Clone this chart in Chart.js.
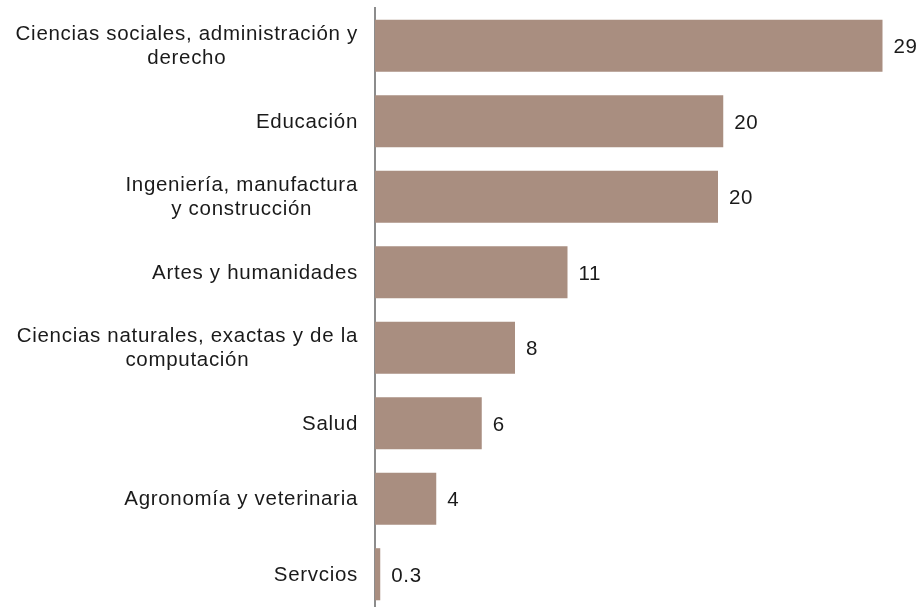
<!DOCTYPE html>
<html>
<head>
<meta charset="utf-8">
<style>
    html, body { margin: 0; padding: 0; background: #fff; overflow: hidden; }
    #wrap { position: relative; width: 922px; height: 612px; }
</style>
<script src="https://cdn.jsdelivr.net/npm/chart.js@4.4.1/dist/chart.umd.min.js"></script>
</head>
<body>
<div id="wrap"><canvas id="chart"></canvas></div>
<script>
    // Categories, one array of lines per bar (line breaks as in the picture)
    var categories = [
        ["Ciencias sociales, administración y", "derecho"],
        ["Educación"],
        ["Ingeniería, manufactura", "y construcción"],
        ["Artes y humanidades"],
        ["Ciencias naturales, exactas y de la", "computación"],
        ["Salud"],
        ["Agronomía y veterinaria"],
        ["Servcios"]
    ];

    var values = [29.0, 19.9, 19.6, 11.0, 8.0, 6.1, 3.5, 0.3];
    var valueLabels = ["29", "20", "20", "11", "8", "6", "4", "0.3"];

    var FONT = "20.5px 'Liberation Sans', Arial, sans-serif";

    // Draws the category labels (centred lines, block right-aligned to the axis)
    // and the value labels at the bar ends
    var labelPlugin = {
        id: "labels",
        afterDraw: function (chart) {
            var ctx = chart.ctx;
            var yScale = chart.scales.y;
            var meta = chart.getDatasetMeta(0);
            ctx.save();
            ctx.font = FONT;
            ctx.letterSpacing = "0.7px";
            ctx.fillStyle = "#1a1a1a";
            ctx.textBaseline = "middle";
            ctx.textAlign = "center";
            var rightEdge = chart.chartArea.left - 17;
            categories.forEach(function (lines, i) {
                var yc = yScale.getPixelForTick(i) + 1;
                var w = 0;
                lines.forEach(function (l) { w = Math.max(w, ctx.measureText(l).width); });
                var cx = rightEdge - w / 2;
                var lh = 24;
                var y0 = yc - (lines.length - 1) * lh / 2;
                lines.forEach(function (l, k) { ctx.fillText(l, cx, y0 + k * lh); });
            });
            ctx.textAlign = "left";
            meta.data.forEach(function (bar, i) {
                ctx.fillText(valueLabels[i], bar.x + 11, bar.y + 2);
            });
            ctx.restore();
        }
    };

    new Chart(document.getElementById("chart"), {
        type: "bar",
        data: {
            labels: categories.map(function (c) { return c.join(" "); }),
            datasets: [{
                data: values,
                backgroundColor: "#a98e80",
                barPercentage: 0.69,
                categoryPercentage: 1.0
            }]
        },
        options: {
            indexAxis: "y",
            responsive: true,
            maintainAspectRatio: false,
            animation: false,
            layout: { padding: { top: 8, right: 22, bottom: 0, left: 0 } },
            plugins: {
                legend: { display: false },
                tooltip: { enabled: false }
            },
            scales: {
                x: {
                    display: false,
                    min: 0,
                    max: 30
                },
                y: {
                    grid: { display: false, drawTicks: false },
                    border: { display: true, color: "#8c8c8c", width: 2 },
                    ticks: { display: false },
                    afterFit: function (scale) { scale.width = 375; }
                }
            }
        },
        plugins: [labelPlugin]
    });
</script>
</body>
</html>
